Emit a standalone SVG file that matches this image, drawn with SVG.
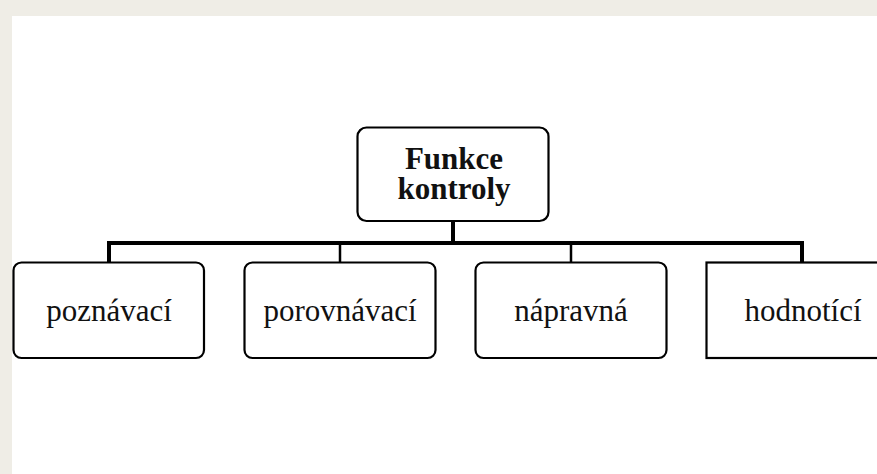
<svg xmlns="http://www.w3.org/2000/svg" width="877" height="474" viewBox="0 0 877 474">
<style>
.box{fill:#ffffff;stroke:#000000;stroke-width:2.2}
.lbl{font-family:"Liberation Serif","Times New Roman",serif;font-size:31px;fill:#111111;text-anchor:middle}
.bold{font-weight:bold}
.thick{stroke:#000000;stroke-width:4;fill:none}
.thin{stroke:#000000;stroke-width:2.5;fill:none}
</style>
<rect x="0" y="0" width="877" height="474" fill="#efede6"/>
<rect x="12" y="16" width="865" height="458" fill="#ffffff"/>
<g id="connectors">
<line class="thick" x1="453" y1="221" x2="453" y2="243"/>
<polyline class="thick" points="109,262 109,243 802,243 802,262"/>
<line class="thin" x1="340" y1="243" x2="340" y2="262"/>
<line class="thin" x1="571" y1="243" x2="571" y2="262"/>
</g>
<g id="root">
<rect class="box" x="357.5" y="127.5" width="191" height="93.5" rx="9"/>
<text class="lbl bold" x="454" y="169">Funkce</text>
<text class="lbl bold" x="454" y="199">kontroly</text>
</g>
<g id="poznavaci">
<rect class="box" x="13.5" y="262.5" width="190.5" height="95.5" rx="8"/>
<text class="lbl" x="109" y="321">poznávací</text>
</g>
<g id="porovnavaci">
<rect class="box" x="244.5" y="262.5" width="191" height="95.5" rx="8"/>
<text class="lbl" x="340" y="321">porovnávací</text>
</g>
<g id="napravna">
<rect class="box" x="475.5" y="262.5" width="191" height="95.5" rx="8"/>
<text class="lbl" x="571" y="321">nápravná</text>
</g>
<g id="hodnotici">
<rect class="box" x="706.5" y="262.5" width="191" height="95.5"/>
<text class="lbl" x="803" y="321">hodnotící</text>
</g>
</svg>
